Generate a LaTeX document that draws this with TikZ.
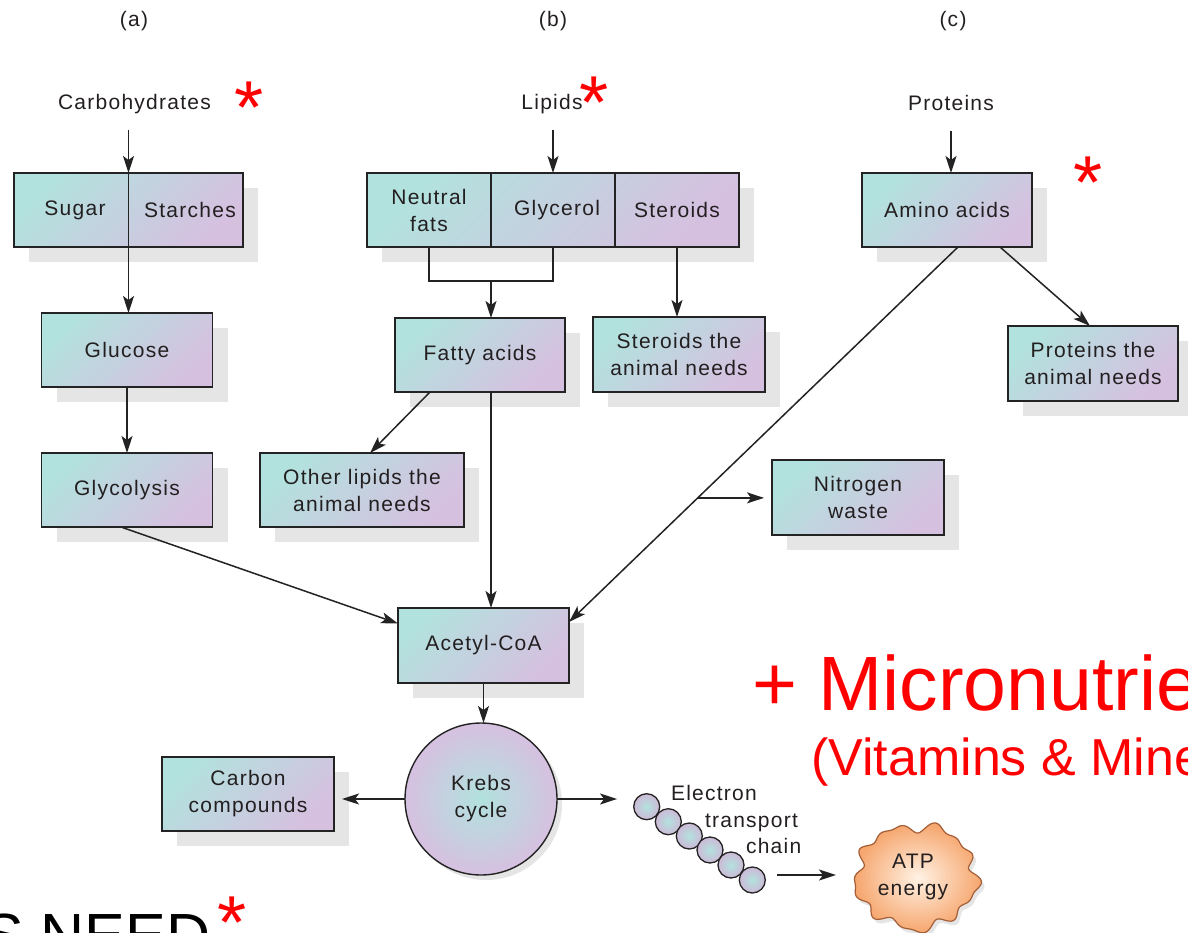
\documentclass[tikz,border=0pt]{standalone}
\usepackage{fontspec}
\setmainfont{Liberation Sans}
\newfontfamily\labfam[LetterSpace=6]{Liberation Sans}
\usetikzlibrary{arrows.meta,shadows}
\definecolor{tl}{RGB}{178,226,222}
\definecolor{pk}{RGB}{214,192,224}
\definecolor{lnc}{RGB}{35,35,35}
\definecolor{txc}{RGB}{35,31,32}
\definecolor{shc}{RGB}{229,229,229}
\definecolor{rd}{RGB}{255,0,0}
\definecolor{org}{RGB}{246,166,110}
\definecolor{orgl}{RGB}{255,242,228}
\definecolor{orgd}{RGB}{165,95,55}
\newcommand\labfont{\labfam\fontsize{21}{27}\selectfont}
\begin{document}
\begin{tikzpicture}[x=1pt,y=-1pt,
  cell/.style={inner sep=0pt, outer sep=0pt, text=txc, font=\labfont, align=center},
  bx/.style={cell, draw=lnc, line width=1.4pt, top color=tl, bottom color=pk, shading angle=45,
     general shadow={fill=shc, shadow xshift=15pt, shadow yshift=-15pt}},
  lab/.style={cell, anchor=base},
  lk/.style={draw=lnc, line width=1.5pt},
  arr/.style={lk, -{Stealth[length=17pt,width=11pt,inset=4pt]}},
  ast/.style={text=rd, font=\fontsize{75}{75}\selectfont, inner sep=0pt, anchor=base},
  bead/.style={circle, draw=lnc, line width=1.3pt, minimum size=26pt, inner sep=0pt,
     shading=radial, inner color=tl, outer color=pk!90!gray}
]
\useasboundingbox (0,0) rectangle (1188,933);
\clip (0,0) rectangle (1188,933);
\fill[white] (0,0) rectangle (1188,933);

% column labels
\node[lab] (la) at (134,27) {(a)};
\node[lab] (lb) at (553,27) {(b)};
\node[lab] (lc) at (953,27) {(c)};

\node[lab] (carb) at (134.5,110) {Carbohydrates};
\node[lab] (lip) at (552,110) {Lipids};
\node[lab] (prot) at (951,111) {Proteins};

\node[ast] (ast1) at (249.5,134) {*};
\node[ast] (ast2) at (594.5,129) {*};
\node[ast] (ast3) at (1088,209) {*};

% (a) carbohydrates
\node[bx, minimum width=229pt, minimum height=74pt] (cs) at (128.5,210) {};
\node[cell] (sug) at (75,210) {Sugar};
\node[cell] (sta) at (190,210) {Starches};
\node[bx, minimum width=171pt, minimum height=74pt] (glu) at (127,350) {Glucose};
\node[bx, minimum width=171pt, minimum height=74pt] (gly) at (127,490) {Glycolysis};

% (b) lipids
\node[bx, minimum width=372pt, minimum height=74pt] (lipbox) at (553,210) {};
\node[cell, minimum width=124pt, minimum height=74pt] (nf) at (429,210) {Neutral\\fats};
\node[cell, minimum width=124pt, minimum height=74pt] (gl) at (553,210) {\hspace*{8pt}Glycerol};
\node[cell, minimum width=124pt, minimum height=74pt] (st) at (677,210) {Steroids};
\draw[lk] (nf.north east) -- (nf.south east);
\draw[lk] (gl.north east) -- (gl.south east);
\node[bx, minimum width=170pt, minimum height=74pt] (fa) at (480,355) {Fatty acids};
\node[bx, minimum width=172pt, minimum height=75pt] (stn) at (679,354.5) {Steroids the\\animal needs};
\node[bx, minimum width=204pt, minimum height=74pt] (ol) at (362,490) {Other lipids the\\animal needs};

% (c) proteins
\node[bx, minimum width=170pt, minimum height=74pt] (aa) at (947,210) {Amino acids};
\node[bx, minimum width=170pt, minimum height=75pt] (pan) at (1093,363.5) {Proteins the\\animal needs};
\node[bx, minimum width=172pt, minimum height=75pt] (nw) at (858,497.5) {Nitrogen\\waste};

% common pathway
\node[bx, minimum width=171pt, minimum height=75pt] (ac) at (483.5,645.5) {Acetyl-CoA};
\node[cell, circle, draw=lnc, line width=1.4pt, minimum size=152pt, shading=radial, inner color=tl, outer color=pk,
   general shadow={fill=shc, shadow xshift=5pt, shadow yshift=-5pt}] (kr) at (481,799) {Krebs\\cycle};
\node[bx, minimum width=172pt, minimum height=74pt] (cc) at (248,794) {Carbon\\compounds};

% electron transport chain
\node[bead] (b1) at (646.7,806.7) {};
\node[bead] (b2) at (668.3,821.7) {};
\node[bead] (b3) at (689.3,836) {};
\node[bead] (b4) at (710,850) {};
\node[bead] (b5) at (731,865) {};
\node[bead] (b6) at (752.3,880) {};
\node[cell, anchor=base west] (e1) at (671,800) {Electron};
\node[cell, anchor=base west] (e2) at (705,827) {transport};
\node[cell, anchor=base west] (e3) at (746,853) {chain};

% ATP blob
\fill[shc] plot[domain=0:360, samples=181, variable=\t]
  ({919+(60+3*sin(9*\t)+2.5*sin(14*\t+50)+2*sin(5*\t+20))*cos(\t)}, {881+(51+3*sin(9*\t)+2.5*sin(14*\t+50)+2*sin(5*\t+20))*sin(\t)}) -- cycle;
\shadedraw[draw=orgd, line width=1.2pt, shading=radial, inner color=orgl, outer color=org]
  plot[domain=0:360, samples=181, variable=\t]
  ({916+(60+3*sin(9*\t)+2.5*sin(14*\t+50)+2*sin(5*\t+20))*cos(\t)}, {877+(51+3*sin(9*\t)+2.5*sin(14*\t+50)+2*sin(5*\t+20))*sin(\t)}) -- cycle;
\node[cell, minimum width=150pt] (atp) at (913,877) {ATP\\energy};

% connectors
\coordinate (c1) at ([yshift=-20pt]carb.base);
\draw[arr] (cs.north |- c1) -- (cs.north);
\draw[arr] (cs.north) -- (cs.north |- glu.north);
\draw[arr] (glu.south) -- (gly.north);
\draw[arr] ([xshift=-6pt]gly.south) -- ([yshift=22pt]ac.west);

\coordinate (c2) at ([yshift=-20pt]lip.base);
\draw[arr] (lipbox.north |- c2) -- (lipbox.north);
\coordinate (br) at (491,281);
\draw[lk] (nf.south) |- (br) -| (gl.south);
\draw[arr] (br) -- (br |- fa.north);
\draw[arr] (st.south) -- (st.south |- stn.north);
\draw[arr] ([xshift=-50pt]fa.south) -- ([xshift=8pt]ol.north);
\draw[arr] (br |- fa.south) -- (br |- ac.north);

\coordinate (c3) at ([yshift=-20pt]prot.base);
\draw[arr] (c3) -- (c3 |- aa.north);
\draw[arr] ([xshift=11pt]aa.south) -- coordinate[pos=0.669] (nj) ([yshift=-14pt]ac.north east);
\draw[arr] ([xshift=53pt]aa.south) -- ([xshift=-3pt]pan.north);
\draw[arr, shorten >=8pt] (nj) -- (nj -| nw.west);

\draw[arr] (ac.south) -- (ac.south |- kr.north);
\draw[arr, shorten >=8pt] (kr.west) -- (kr.west -| cc.east);
\coordinate (etcin) at ([xshift=-16pt]b1.west);
\draw[arr] (kr.east) -- (kr.east -| etcin);
\coordinate (e0) at ([shift={(11pt,5pt)}]b6.east);
\draw[arr, shorten >=2pt] (e0) -- (e0 -| atp.west);

% red / black overlay texts
\node[anchor=base west, text=rd, font=\fontsize{77}{77}\selectfont, inner sep=0pt] (mic) at (752,710) {+ Micronutrients};
\node[anchor=base west, text=rd, font=\fontsize{52}{52}\selectfont, inner sep=0pt] (vit) at (811,775) {(Vitamins \& Minerals)};
\node[anchor=base west, text=black, font=\fontsize{61}{61}\selectfont, inner sep=0pt] (need) at (-17,956) {S NEED};
\node[ast] (ast4) at (232,948) {*};
\end{tikzpicture}
\end{document}
